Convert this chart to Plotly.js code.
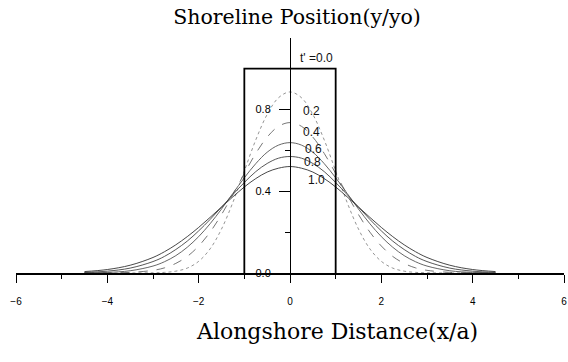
<!DOCTYPE html>
<html><head><meta charset="utf-8">
<script src="https://cdn.plot.ly/plotly-3.0.1.min.js"></script>
<style>html,body{margin:0;padding:0;background:#fff}#chart{width:568px;height:362px}</style>
</head><body><div id="chart"></div>
<script>
// Alongshore distance (x/a)
const xDist = [-4.5,-4,-3.5,-3,-2.75,-2.5,-2.25,-2,-1.75,-1.5,-1.25,-1,-0.75,-0.5,-0.25,0,0.25,0.5,0.75,1,1.25,1.5,1.75,2,2.25,2.5,2.75,3,3.5,4,4.5];
// Shoreline position (y/yo) for each t'
const y_t02 = [0,0,0,0.001,0.003,0.009,0.024,0.057,0.118,0.215,0.346,0.499,0.651,0.776,0.858,0.886,0.858,0.776,0.651,0.499,0.346,0.215,0.118,0.057,0.024,0.009,0.003,0.001,0,0,0];
const y_t04 = [0,0.001,0.003,0.013,0.025,0.047,0.081,0.132,0.200,0.286,0.384,0.487,0.585,0.665,0.718,0.736,0.718,0.665,0.585,0.487,0.384,0.286,0.200,0.132,0.081,0.047,0.025,0.013,0.003,0.001,0];
const y_t06 = [0.001,0.003,0.011,0.034,0.055,0.085,0.126,0.178,0.241,0.313,0.390,0.466,0.535,0.591,0.626,0.638,0.626,0.591,0.535,0.466,0.390,0.313,0.241,0.178,0.126,0.085,0.055,0.034,0.011,0.003,0.001];
const y_t08 = [0.003,0.009,0.024,0.056,0.081,0.115,0.156,0.206,0.262,0.322,0.384,0.443,0.496,0.536,0.562,0.570,0.562,0.536,0.496,0.443,0.384,0.322,0.262,0.206,0.156,0.115,0.081,0.056,0.024,0.009,0.003];
const y_t10 = [0.007,0.017,0.038,0.076,0.104,0.138,0.178,0.223,0.272,0.323,0.373,0.421,0.462,0.494,0.513,0.521,0.513,0.494,0.462,0.421,0.373,0.323,0.272,0.223,0.178,0.138,0.104,0.076,0.038,0.017,0.007];
// Initial rectangular nourishment (t' = 0.0)
const xBox = [-1,-1,1,1];
const yBox = [0,1,1,0];
// Curve labels
const labelText = ["t' =0.0","0.2","0.4","0.6","0.8","1.0"];
const labelX = [0.57,0.46,0.48,0.52,0.5,0.57];
const labelY = [1.05,0.795,0.69,0.605,0.545,0.455];

const curves = [
  {y:y_t02, color:'#888', dash:'dot'},
  {y:y_t04, color:'#666', dash:'dash'},
  {y:y_t06, color:'#555', dash:'solid'},
  {y:y_t08, color:'#444', dash:'solid'},
  {y:y_t10, color:'#333', dash:'solid'}
];
const traces = curves.map(c => ({x:xDist, y:c.y, type:'scatter', mode:'lines',
  line:{color:c.color, width:0.9, dash:c.dash, shape:'spline'}, hoverinfo:'none'}));
traces.push({x:xBox, y:yBox, type:'scatter', mode:'lines', line:{color:'#000', width:1.8}, hoverinfo:'none'});

const annotations = labelText.map((t,i)=>({x:labelX[i], y:labelY[i], xref:'x', yref:'y', text:t,
  showarrow:false, font:{family:'Liberation Sans, Arial, sans-serif', size:12, color:'#111'}}));
annotations.push({x:(337-16)/548, y:(273-331)/235, xref:'paper', yref:'paper', text:'Alongshore Distance(x/a)',
  yanchor:'middle', xanchor:'center',
  showarrow:false, font:{family:'DejaVu Serif, serif', size:22, color:'#000'}});

const layout = {
  width:568, height:362,
  margin:{l:16, r:4, t:38, b:89},
  paper_bgcolor:'#fff', plot_bgcolor:'#fff',
  showlegend:false,
  title:{text:'Shoreline Position(y/yo)', x:297/568, xanchor:'center', xref:'container',
    y:1-17/362, yanchor:'middle', yref:'container',
    font:{family:'DejaVu Serif, serif', size:20.5, color:'#000'}},
  xaxis:{range:[-6,6], showgrid:false, zeroline:false, showline:true, linecolor:'#000', linewidth:1.5,
    tickmode:'linear', tick0:-6, dtick:2, ticks:'outside', ticklen:8, tickcolor:'#000', tickwidth:1,
    ticklabelstandoff:10,
    minor:{dtick:1, ticks:'outside', ticklen:4, tickcolor:'#000'},
    tickfont:{family:'Liberation Sans, Arial, sans-serif', size:10, color:'#000'}, fixedrange:true},
  yaxis:{range:[0,1.15], showgrid:false, zeroline:false, showline:true, linecolor:'#000', linewidth:1,
    anchor:'free', position:0.5,
    tickmode:'array', tickvals:[0,0.4,0.8], ticktext:['0.0','0.4','0.8'], ticks:'outside', ticklen:11, tickcolor:'#000',
    ticklabelstandoff:6,
    minor:{tickvals:[0.2,0.6], ticks:'outside', ticklen:5, tickcolor:'#000'},
    tickfont:{family:'Liberation Sans, Arial, sans-serif', size:11, color:'#000'}, fixedrange:true},
  annotations:annotations
};
Plotly.newPlot('chart', traces, layout, {displayModeBar:false, staticPlot:true});
</script></body></html>
